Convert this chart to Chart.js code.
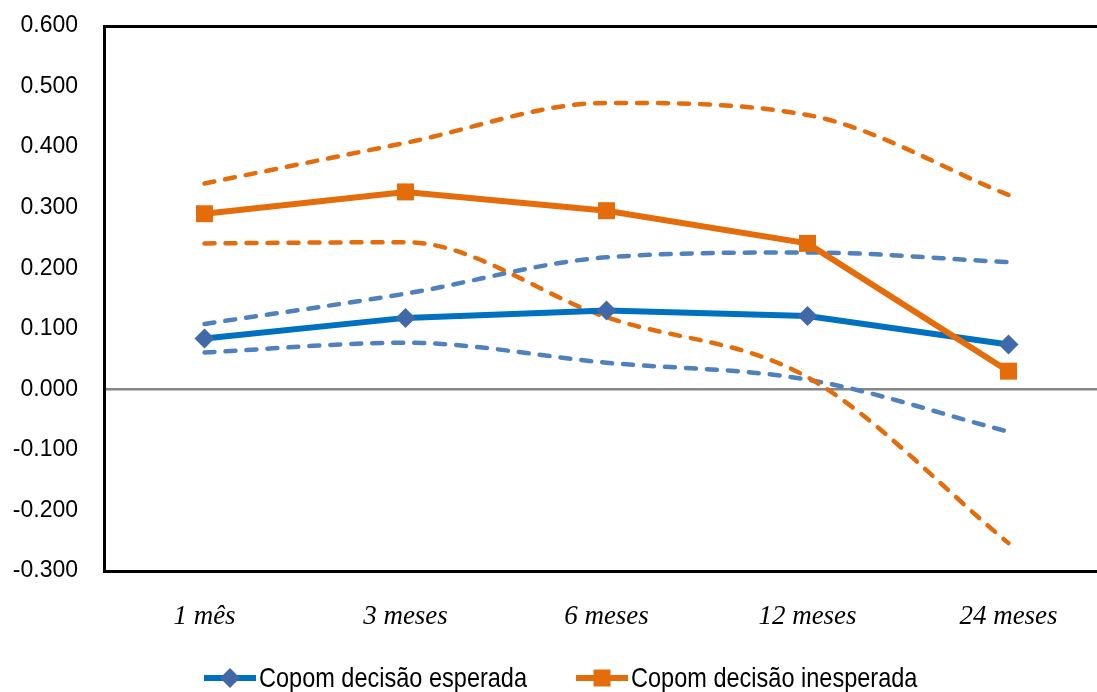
<!DOCTYPE html>
<html>
<head>
<meta charset="utf-8">
<script src="https://cdn.jsdelivr.net/npm/chart.js@4.4.1/dist/chart.umd.min.js"></script>
<style>
  html, body { margin: 0; padding: 0; background: #fff; overflow: hidden; }
  #wrap { width: 1097px; height: 692px; overflow: hidden; }
</style>
</head>
<body>
<div id="wrap"><canvas id="copomChart" width="1110" height="692"></canvas></div>
<script>
const horizons = ['1 mês', '3 meses', '6 meses', '12 meses', '24 meses'];

// decisão esperada: resposta e banda
const esperada    = [0.084, 0.118, 0.130, 0.121, 0.074];
const esperadaSup = [0.108, 0.158, 0.218, 0.226, 0.210];
const esperadaInf = [0.061, 0.077, 0.044, 0.016, -0.070];

// decisão inesperada: resposta e banda
const inesperada    = [0.290, 0.326, 0.295, 0.241, 0.030];
const inesperadaSup = [0.340, 0.407, 0.473, 0.453, 0.321];
const inesperadaInf = [0.241, 0.243, 0.119, 0.020, -0.254];

const yTicks = { min: -0.3, max: 0.6, step: 0.1 };

const BLUE = '#0070C0';
const BLUE_MARK = '#4169A8';
const BLUE_DASH = '#4F81BD';
const ORANGE = '#E46C0A';

function band(data, color) {
  return {
    label: '',
    data: data,
    borderColor: color,
    borderWidth: 4.5,
    borderDash: [10, 11],
    borderCapStyle: 'round',
    pointRadius: 0,
    fill: false,
    cubicInterpolationMode: 'monotone',
    order: 2
  };
}

// legenda desenhada à mão: linha com marcador no meio + texto estreito
const legendPlugin = {
  id: 'copomLegend',
  afterDraw(chart) {
    const ctx = chart.ctx;
    const y = 678;
    const squeeze = 0.84;
    const items = [
      { text: 'Copom decisão esperada', color: BLUE, mark: BLUE_MARK, shape: 'diamond' },
      { text: 'Copom decisão inesperada', color: ORANGE, mark: ORANGE, shape: 'square' }
    ];
    ctx.save();
    ctx.font = '28px "Liberation Sans", Arial, sans-serif';
    ctx.textBaseline = 'middle';
    let x = 204;
    items.forEach(function (it) {
      const w = 52;
      ctx.strokeStyle = it.color;
      ctx.lineWidth = 6;
      ctx.beginPath();
      ctx.moveTo(x, y);
      ctx.lineTo(x + w, y);
      ctx.stroke();
      const cx = x + w / 2;
      ctx.fillStyle = it.mark;
      ctx.beginPath();
      if (it.shape === 'diamond') {
        ctx.moveTo(cx - 10, y);
        ctx.lineTo(cx, y - 10);
        ctx.lineTo(cx + 10, y);
        ctx.lineTo(cx, y + 10);
        ctx.closePath();
      } else {
        ctx.rect(cx - 8.5, y - 8.5, 17, 17);
      }
      ctx.fill();
      const tx = x + w + 3;
      const tw = ctx.measureText(it.text).width * squeeze;
      ctx.save();
      ctx.translate(tx, y);
      ctx.scale(squeeze, 1);
      ctx.fillStyle = '#000';
      ctx.fillText(it.text, 0, 1);
      ctx.restore();
      x = tx + tw + 49;
    });
    ctx.restore();
  }
};

const ctx = document.getElementById('copomChart').getContext('2d');
new Chart(ctx, {
  type: 'line',
  data: {
    labels: horizons,
    datasets: [
      {
        label: 'Copom decisão inesperada',
        data: inesperada,
        borderColor: ORANGE,
        borderWidth: 6,
        pointStyle: 'rect',
        pointRadius: 12,
        pointBackgroundColor: ORANGE,
        pointBorderWidth: 0,
        tension: 0,
        order: 0
      },
      {
        label: 'Copom decisão esperada',
        data: esperada,
        borderColor: BLUE,
        borderWidth: 6,
        pointStyle: 'rectRot',
        pointRadius: 10,
        pointBackgroundColor: BLUE_MARK,
        pointBorderWidth: 0,
        tension: 0,
        order: 1
      },
      band(inesperadaSup, ORANGE),
      band(inesperadaInf, ORANGE),
      band(esperadaSup, BLUE_DASH),
      band(esperadaInf, BLUE_DASH)
    ]
  },
  plugins: [legendPlugin],
  options: {
    responsive: false,
    animation: false,
    layout: { autoPadding: false, padding: { top: 26, right: 1, left: 0, bottom: 0 } },
    plugins: {
      legend: { display: false },
      tooltip: { enabled: false }
    },
    scales: {
      x: {
        offset: true,
        grid: { display: true, color: 'rgba(0,0,0,0)', drawTicks: false },
        border: { display: true, color: '#000', width: 3 },
        ticks: {
          padding: 30,
          color: '#000',
          font: { family: '"Liberation Serif", "Times New Roman", serif', style: 'italic', size: 27 }
        },
        afterFit: function (scale) {
          scale.height = 121;
          scale.paddingLeft = 0;
          scale.paddingRight = 0;
        }
      },
      y: {
        min: yTicks.min,
        max: yTicks.max,
        grid: {
          drawTicks: false,
          color: function (c) {
            const v = c.tick ? c.tick.value : NaN;
            if (Math.abs(v) < 1e-9) return '#868686';
            if (Math.abs(v - yTicks.max) < 1e-9) return '#000';
            return 'rgba(0,0,0,0)';
          },
          lineWidth: function (c) {
            const v = c.tick ? c.tick.value : NaN;
            if (Math.abs(v - yTicks.max) < 1e-9) return 3;
            return 2.5;
          }
        },
        border: { display: true, color: '#000', width: 3 },
        ticks: {
          stepSize: yTicks.step,
          padding: 26,
          color: '#000',
          font: { family: '"Liberation Sans", Arial, sans-serif', size: 23 },
          callback: function (v) {
            if (Math.abs(v) < 1e-9) v = 0;
            return v.toFixed(3);
          }
        },
        afterFit: function (scale) {
          scale.width = 104;
          scale.paddingTop = 0;
          scale.paddingBottom = 0;
        }
      }
    }
  }
});
</script>
</body>
</html>
